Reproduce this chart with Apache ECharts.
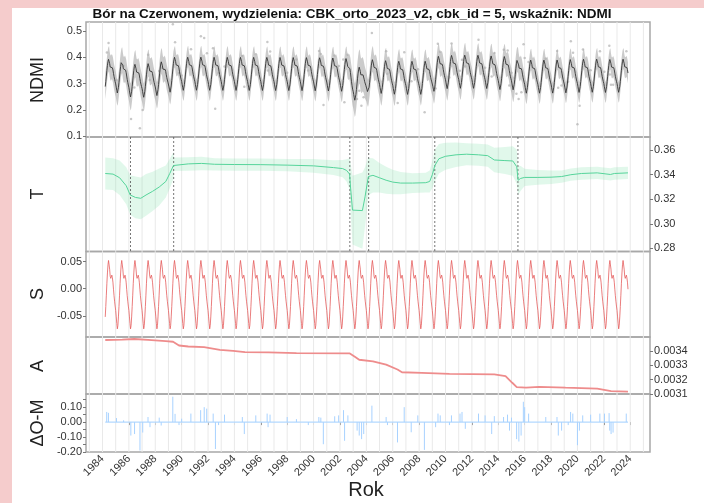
<!DOCTYPE html>
<html><head><meta charset="utf-8">
<script src="https://cdn.jsdelivr.net/npm/echarts@6/dist/echarts.min.js"></script>
<style>
html,body{margin:0;padding:0;background:#f5cccc;width:704px;height:503px;overflow:hidden}
#bg{position:absolute;left:12px;top:8px;width:692px;height:495px;background:#fff}
#c{position:absolute;left:0;top:0;width:704px;height:503px}
</style>
</head><body><div id="bg"></div><div id="c"></div>
<script>
// ---------------- data ----------------
const titleText = 'Bór na Czerwonem, wydzielenia: CBK_orto_2023_v2, cbk_id = 5, wskaźnik: NDMI';
const panelNames = ['NDMI', 'T', 'S', 'A', 'ΔO-M'];
const xTickYears = [1984,1986,1988,1990,1992,1994,1996,1998,2000,2002,2004,2006,2008,2010,2012,2014,2016,2018,2020,2022,2024];
const gridYears = [1983,1984,1985,1986,1987,1988,1989,1990,1991,1992,1993,1994,1995,1996,1997,1998,1999,2000,2001,2002,2003,2004,2005,2006,2007,2008,2009,2010,2011,2012,2013,2014,2015,2016,2017,2018,2019,2020,2021,2022,2023,2024,2025];
const ndmiTicks = [0.1,0.2,0.3,0.4,0.5];
const tTicks = [0.28,0.30,0.32,0.34,0.36];
const sTicks = [-0.05,0.00,0.05];
const aTicks = [0.0031,0.0032,0.0033,0.0034];
const dTicks = [-0.20,-0.10,0.00,0.10];
const dMinorTicks = [-0.20,-0.15,-0.10,-0.05,0.00,0.05,0.10,0.15];

// observation period (24 steps per year)
const firstYear = 1984, firstStep = 5, lastYear = 2023, lastStep = 20;

// seasonal component S, one value per half-month step (periodic)
const seasonProfile = [-0.040,-0.052,-0.064,-0.074,-0.068,-0.052,-0.033,-0.012,0.010,0.029,0.044,0.052,
                        0.054,0.036,0.023,0.019,0.021,0.025,0.020,0.012,-0.001,-0.013,-0.023,-0.032];

// trend component T with its confidence half-width
const trendYears = [1984.21,1984.8,1985.3,1985.8,1986.1,1986.5,1986.9,1987.3,1987.8,1988.3,1988.8,1989.1,1989.38,
  1989.42,1990.5,1991.5,1992.5,1994,1996,1998,2000,2001.5,2002.2,2002.5,2002.73,
  2002.8,2002.95,2003.7,2003.9,2004.15,
  2004.2,2004.5,2005.0,2005.5,2006.0,2006.6,2007.5,2008.5,2008.8,2009.0,
  2009.19,2009.5,2010.0,2010.8,2011.6,2012.5,2013.2,2013.7,2014.5,2015.1,2015.4,
  2015.5,2015.7,2016.0,2017.0,2018.0,2018.8,2019.5,2020.3,2021.5,2022.5,2022.8,2023.83];
const trendValues = [0.3410,0.3405,0.3375,0.3310,0.3235,0.3215,0.3208,0.3235,0.3265,0.3300,0.3345,0.3410,0.3475,
  0.3485,0.3488,0.3492,0.3485,0.3483,0.3482,0.3478,0.3472,0.3458,0.3450,0.3435,0.3405,
  0.3300,0.3112,0.3108,0.3220,0.3385,
  0.3386,0.3395,0.3375,0.3355,0.3340,0.3332,0.3332,0.3335,0.3345,0.3400,
  0.3475,0.3530,0.3550,0.3562,0.3567,0.3562,0.3555,0.3520,0.3515,0.3512,0.3465,
  0.3355,0.3370,0.3378,0.3378,0.3380,0.3385,0.3400,0.3410,0.3415,0.3402,0.3410,0.3415];
const trendHalfWidth = [0.013,0.013,0.014,0.015,0.016,0.017,0.017,0.017,0.016,0.015,0.013,0.012,0.011,
  0.0055,0.0055,0.0055,0.005,0.005,0.005,0.005,0.0055,0.006,0.007,0.009,0.013,
  0.020,0.028,0.031,0.024,0.016,
  0.015,0.014,0.012,0.011,0.010,0.009,0.008,0.008,0.009,0.011,
  0.013,0.012,0.011,0.010,0.009,0.009,0.009,0.010,0.011,0.012,0.014,
  0.012,0.010,0.007,0.006,0.0055,0.005,0.005,0.005,0.005,0.005,0.005,0.005];
const breakYears = [1986.12,1989.40,2002.75,2004.18,2009.19,2015.49];
const ndmiSpread = 0.035;

// amplitude A
const ampYears = [1984.21,1985.5,1986.4,1987.45,1988.8,1989.35,1989.8,1990.5,1991.7,1992.9,1993.9,1994.8,1996.6,1998.7,2002.75,
  2003.1,2003.46,2004.5,2005.5,2006.36,2006.7,2008.2,2010.3,2013.7,2014.55,2015.06,2015.4,2016.1,2017.1,2019.1,2021.5,2022.55,2023.83];
const ampValues = [0.003475,0.003478,0.003482,0.003476,0.003468,0.003463,0.003437,0.003430,0.003425,0.003407,0.003400,0.003391,0.003389,0.003384,0.003382,
  0.003361,0.003338,0.003327,0.003304,0.003270,0.003251,0.003247,0.003240,0.003236,0.003224,0.003178,0.003148,0.003144,0.003150,0.003144,0.003137,0.003120,0.003117];

// residuals observed - model (ΔO-M)
const residYears = [1984.32,1984.45,1985.06,1985.6,1986.15,1986.43,1986.84,1987.05,1987.45,1987.6,1988.3,1988.45,1989.33,1989.5,1989.8,
  1990.0,1990.7,1991.44,1991.71,1991.9,1992.39,1992.56,1992.8,1993.25,1994.6,1994.75,1995.62,1996.48,1996.55,1996.7,1998.0,1998.7,
  1999.6,2000.4,2000.55,2000.74,2001.6,2001.9,2002.27,2002.35,2002.6,2003.3,2003.46,2003.64,2003.8,2004.42,2005.5,2005.6,
  2006.36,2006.87,2007.4,2007.9,2008.4,2009.25,2009.43,2009.6,2010.3,2010.45,2011.1,2011.25,2011.5,2012.5,2013.0,2013.5,2013.7,
  2014.4,2014.7,2014.85,2015.0,2015.39,2015.56,2015.73,2015.9,2016.0,2016.3,2017.6,2018.45,2018.55,2018.8,2019.3,2019.48,2019.65,
  2020.0,2020.15,2020.4,2021.0,2021.7,2022.05,2022.4,2022.45,2022.55,2022.7,2023.7];
const residValues = [0.068,0.062,0.027,0.012,-0.09,-0.08,-0.19,-0.07,0.034,-0.034,0.030,-0.023,0.17,0.055,-0.02,
  0.023,0.057,0.08,0.10,0.09,0.057,-0.18,-0.02,0.05,0.034,-0.08,0.045,0.057,-0.034,0.05,0.034,0.02,
  -0.02,0.034,0.03,-0.148,0.039,0.045,0.08,-0.125,0.045,-0.057,-0.09,-0.114,-0.08,0.11,0.034,-0.02,
  -0.136,0.10,-0.068,0.045,-0.186,-0.034,0.057,0.045,-0.02,0.045,0.057,0.068,-0.045,0.057,0.045,-0.08,0.04,
  0.034,0.05,-0.057,0.03,-0.114,-0.13,-0.09,0.136,0.10,0.057,0.034,0.034,-0.09,-0.057,-0.02,0.068,0.057,
  -0.155,-0.057,0.045,0.05,0.057,0.057,0.06,-0.057,-0.08,-0.07,0.057];

// ---------------- derived series ----------------
const times = [], sIdx = [];
for (let y = firstYear; y <= lastYear; y++) {
  for (let k = 0; k < seasonProfile.length; k++) {
    if (y === firstYear && k < firstStep) continue;
    if (y === lastYear && k > lastStep) continue;
    times.push(y + k / 24); sIdx.push(k);
  }
}
function lerp(xs, ys, t) {
  if (t <= xs[0]) return ys[0];
  for (let i = 1; i < xs.length; i++) {
    if (t <= xs[i]) { const f = (t - xs[i-1]) / (xs[i] - xs[i-1]); return ys[i-1] + f * (ys[i] - ys[i-1]); }
  }
  return ys[ys.length - 1];
}
const sData = times.map((t, i) => [t, seasonProfile[sIdx[i]]]);
const fitVals = times.map((t, i) => lerp(trendYears, trendValues, t) + seasonProfile[sIdx[i]]);
const fitData = times.map((t, i) => [t, fitVals[i]]);
const ndmiLo = times.map((t, i) => fitVals[i] - ndmiSpread - lerp(trendYears, trendHalfWidth, t));
const ndmiHi = times.map((t, i) => fitVals[i] + ndmiSpread + lerp(trendYears, trendHalfWidth, t));
const obsData = residYears.map((yr, j) => {
  let idx = 0, best = 1e9;
  times.forEach((t, i) => { const d = Math.abs(t - yr); if (d < best) { best = d; idx = i; } });
  return [times[idx], fitVals[idx] + residValues[j]];
});
const trendData = trendYears.map((t, i) => [t, trendValues[i]]);
const tLo = trendYears.map((t, i) => trendValues[i] - trendHalfWidth[i]);
const tHi = trendYears.map((t, i) => trendValues[i] + trendHalfWidth[i]);
const ampData = ampYears.map((t, i) => [t, ampValues[i]]);
const residData = residYears.map((t, i) => [t, residValues[i]]);

// ---------------- chart ----------------
const FONT = 'Liberation Sans, Arial, sans-serif';
const X0 = 86, X1 = 650;
const panels = [
  {top: 22, h: 115, min: 0.097, max: 0.535, pos: 'left', labels: ndmiTicks, dec: 1},
  {top: 137, h: 114.5, min: 0.2775, max: 0.3707, pos: 'right', labels: tTicks, dec: 2},
  {top: 251.5, h: 85.5, min: -0.089, max: 0.0685, pos: 'left', labels: sTicks, dec: 2},
  {top: 337, h: 57, min: 0.0031, max: 0.003496, pos: 'right', labels: aTicks, dec: 4},
  {top: 394, h: 58, min: -0.2, max: 0.188, pos: 'left', labels: dTicks, ticks: dMinorTicks, dec: 2}
];
const grids = panels.map(p => ({left: X0, width: X1 - X0, top: p.top, height: p.h, show: true,
  borderColor: '#a8a8a8', borderWidth: 1.5, backgroundColor: 'transparent', containLabel: false}));
const xAxes = panels.map((p, i) => ({
  type: 'value', gridIndex: i, min: 1982.75, max: 2025.5,
  axisLine: {show: false}, splitLine: {show: false},
  axisTick: {show: i === 4, length: 3, lineStyle: {color: '#777'}, customValues: xTickYears},
  axisLabel: {show: i === 4, customValues: xTickYears, rotate: 45, margin: 5, fontSize: 11, color: '#333', fontFamily: FONT,
    formatter: v => String(Math.round(v))}
}));
const yAxes = panels.map((p, i) => ({
  type: 'value', gridIndex: i, min: p.min, max: p.max, position: p.pos,
  axisLine: {show: false}, splitLine: {show: false},
  axisTick: {show: true, length: 3, lineStyle: {color: '#777'}, customValues: p.ticks || p.labels},
  axisLabel: {customValues: p.labels, margin: 4, fontSize: 11, color: '#333', fontFamily: FONT,
    showMinLabel: true, showMaxLabel: true, formatter: v => v.toFixed(p.dec)}
}));

function vLines(gridIdx, years, color, dash, z) {
  return {
    type: 'custom', xAxisIndex: gridIdx, yAxisIndex: gridIdx, silent: true, z: z,
    data: years.map(y => [y, panels[gridIdx].max]),
    renderItem: (params, api) => {
      const p = api.coord([api.value(0), api.value(1)]);
      const cs = params.coordSys;
      return {type: 'line', shape: {x1: p[0], y1: cs.y, x2: p[0], y2: cs.y + cs.height},
        style: {stroke: color, lineWidth: dash ? 0.8 : 1, lineDash: dash || null}};
    }
  };
}
function band(gridIdx, xs, lo, hi, color, z) {
  return {
    type: 'custom', xAxisIndex: gridIdx, yAxisIndex: gridIdx, silent: true, z: z, clip: true,
    data: [[xs[0], hi[0]]],
    renderItem: (params, api) => {
      const pts = [];
      for (let i = 0; i < xs.length; i++) pts.push(api.coord([xs[i], hi[i]]));
      for (let i = xs.length - 1; i >= 0; i--) pts.push(api.coord([xs[i], lo[i]]));
      return {type: 'polygon', shape: {points: pts}, style: {fill: color}};
    }
  };
}

const series = [];
for (let g = 0; g < 5; g++) series.push(vLines(g, gridYears, '#e9e9e9', null, 1));
// NDMI
series.push(band(0, times, ndmiLo, ndmiHi, 'rgba(160,160,160,0.55)', 2));
series.push({type: 'scatter', xAxisIndex: 0, yAxisIndex: 0, data: obsData, symbolSize: 2.5,
  itemStyle: {color: 'rgba(175,175,175,0.85)'}, silent: true, z: 3});
series.push({type: 'line', xAxisIndex: 0, yAxisIndex: 0, data: fitData, showSymbol: false,
  lineStyle: {color: '#333', width: 0.9}, silent: true, z: 4});
// T
series.push(band(1, trendYears, tLo, tHi, 'rgba(120,225,165,0.22)', 2));
series.push(vLines(1, breakYears, '#555', [2, 2], 3));
series.push({type: 'line', xAxisIndex: 1, yAxisIndex: 1, data: trendData, showSymbol: false,
  lineStyle: {color: '#55d49a', width: 1}, silent: true, z: 4});
// S
series.push({type: 'line', xAxisIndex: 2, yAxisIndex: 2, data: sData, showSymbol: false,
  lineStyle: {color: '#e45c5c', width: 0.8}, silent: true, z: 4});
// A
series.push({type: 'line', xAxisIndex: 3, yAxisIndex: 3, data: ampData, showSymbol: false,
  lineStyle: {color: '#ee8c8c', width: 1.8}, silent: true, z: 4});
// ΔO-M
series.push({type: 'line', xAxisIndex: 4, yAxisIndex: 4, data: [[times[0], 0], [times[times.length - 1], 0]],
  showSymbol: false, lineStyle: {color: '#b3d9ff', width: 1.2}, silent: true, z: 3});
series.push({
  type: 'custom', xAxisIndex: 4, yAxisIndex: 4, silent: true, z: 4, data: residData,
  renderItem: (params, api) => {
    const a = api.coord([api.value(0), 0]);
    const b = api.coord([api.value(0), api.value(1)]);
    return {type: 'line', shape: {x1: a[0], y1: a[1], x2: b[0], y2: b[1]}, style: {stroke: '#a8d2ff', lineWidth: 1}};
  }
});

const nameY = [80, 194, 294, 366, 423];
const graphics = [
  {type: 'text', left: 'center', top: 7, style: {text: titleText, font: 'bold 13.5px ' + FONT, fill: '#111'}},
  {type: 'text', x: 366, y: 490, style: {text: 'Rok', font: '20px ' + FONT, fill: '#222', align: 'center', verticalAlign: 'middle'}}
];
panelNames.forEach((n, i) => graphics.push({type: 'text', x: 38, y: nameY[i], rotation: Math.PI / 2,
  style: {text: n, font: '18px ' + FONT, fill: '#222', align: 'center', verticalAlign: 'middle'}}));

const chart = echarts.init(document.getElementById('c'), null, {renderer: 'canvas'});
chart.setOption({
  animation: false, backgroundColor: 'transparent',
  grid: grids, xAxis: xAxes, yAxis: yAxes, series: series, graphic: graphics
});
</script>
</body></html>
